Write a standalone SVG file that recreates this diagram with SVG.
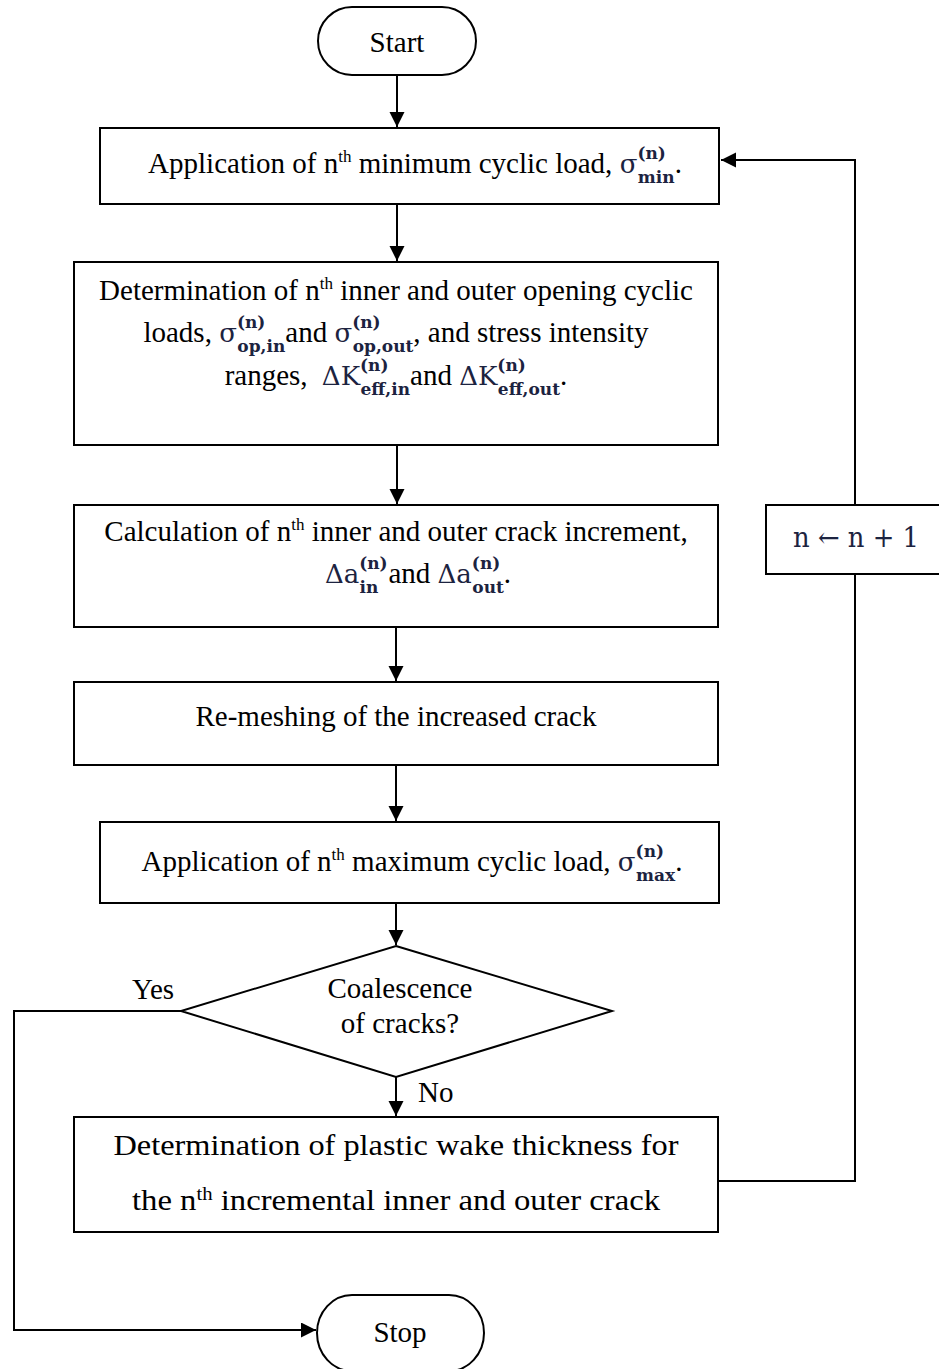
<svg xmlns="http://www.w3.org/2000/svg" width="939" height="1369" viewBox="0 0 939 1369">
<defs>
<style>
.box{fill:#fff;stroke:#000;stroke-width:2}
.ln{fill:none;stroke:#000;stroke-width:2}
.t{font-family:"Liberation Serif","Times New Roman",serif;font-size:29px;fill:#000}
.m{font-family:"DejaVu Serif",serif;fill:#1c2340}
.mb{font-family:"DejaVu Serif",serif;fill:#1c2340;font-size:17px;font-weight:bold}
.sup{font-size:17px}
.p{font-family:"Liberation Serif","Palatino Linotype",serif;font-size:30px;fill:#000}
</style>
<marker id="arr" markerUnits="userSpaceOnUse" markerWidth="16" markerHeight="16" refX="15" refY="7.5" orient="auto">
<path d="M0,0 L15,7.5 L0,15 Z" fill="#000"/>
</marker>
</defs>
<rect width="939" height="1369" fill="#fff"/>

<g id="connectors">
<path class="ln" d="M397,75 V127" marker-end="url(#arr)"/>
<path class="ln" d="M397,204 V261" marker-end="url(#arr)"/>
<path class="ln" d="M397,445 V504" marker-end="url(#arr)"/>
<path class="ln" d="M396,627 V681" marker-end="url(#arr)"/>
<path class="ln" d="M396,765 V821" marker-end="url(#arr)"/>
<path class="ln" d="M396,903 V945" marker-end="url(#arr)"/>
<path class="ln" d="M396,1077 V1116" marker-end="url(#arr)"/>
<path class="ln" d="M182,1011 H14 V1330 H316" marker-end="url(#arr)"/>
<path class="ln" d="M718,1181 H855 V574"/>
<path class="ln" d="M855,505 V160 H721" marker-end="url(#arr)"/>
</g>

<g id="start">
<rect class="box" x="318" y="7" width="158" height="68" rx="34" ry="34"/>
<text class="t" x="397" y="52" text-anchor="middle">Start</text>
</g>

<g id="min-load">
<rect class="box" x="100" y="128" width="619" height="76"/>
<text class="t" x="415" y="173" text-anchor="middle">Application of n<tspan class="sup" dy="-11">th</tspan><tspan dy="11"> minimum cyclic load, </tspan><tspan class="m" font-size="26">σ</tspan><tspan class="mb" dy="-14">(n)</tspan><tspan class="mb" dx="-28" dy="24">min</tspan><tspan dy="-10">.</tspan></text>
</g>

<g id="opening">
<rect class="box" x="74" y="262" width="644" height="183"/>
<text class="t" x="396" y="300" text-anchor="middle">Determination of n<tspan class="sup" dy="-11">th</tspan><tspan dy="11"> inner and outer opening cyclic</tspan></text>
<text class="t" x="396" y="342" text-anchor="middle">loads, <tspan class="m" font-size="26">σ</tspan><tspan class="mb" dy="-14">(n)</tspan><tspan class="mb" dx="-28" dy="24">op,in</tspan><tspan dy="-10">and </tspan><tspan class="m" font-size="26">σ</tspan><tspan class="mb" dy="-14">(n)</tspan><tspan class="mb" dx="-28" dy="24">op,out</tspan><tspan dy="-10">, and stress intensity</tspan></text>
<text class="t" x="396" y="385" text-anchor="middle">ranges, <tspan class="m" dx="7" font-size="26">ΔK</tspan><tspan class="mb" dy="-14">(n)</tspan><tspan class="mb" dx="-28" dy="24">eff,in</tspan><tspan dy="-10">and </tspan><tspan class="m" font-size="26">ΔK</tspan><tspan class="mb" dy="-14">(n)</tspan><tspan class="mb" dx="-28" dy="24">eff,out</tspan><tspan dy="-10">.</tspan></text>
</g>

<g id="increment">
<rect class="box" x="74" y="505" width="644" height="122"/>
<text class="t" x="396" y="541" text-anchor="middle">Calculation of n<tspan class="sup" dy="-11">th</tspan><tspan dy="11"> inner and outer crack increment,</tspan></text>
<text class="t" x="418" y="583" text-anchor="middle"><tspan class="m" font-size="26">Δa</tspan><tspan class="mb" dy="-14">(n)</tspan><tspan class="mb" dx="-28" dy="24">in</tspan><tspan dx="10" dy="-10">and </tspan><tspan class="m" font-size="26">Δa</tspan><tspan class="mb" dy="-14">(n)</tspan><tspan class="mb" dx="-28" dy="24">out</tspan><tspan dy="-10">.</tspan></text>
</g>

<g id="remesh">
<rect class="box" x="74" y="682" width="644" height="83"/>
<text class="t" x="396" y="726" text-anchor="middle">Re-meshing of the increased crack</text>
</g>

<g id="max-load">
<rect class="box" x="100" y="822" width="619" height="81"/>
<text class="t" x="412" y="871" text-anchor="middle">Application of n<tspan class="sup" dy="-11">th</tspan><tspan dy="11"> maximum cyclic load, </tspan><tspan class="m" font-size="26">σ</tspan><tspan class="mb" dy="-14">(n)</tspan><tspan class="mb" dx="-28" dy="24">max</tspan><tspan dy="-10">.</tspan></text>
</g>

<g id="decision">
<polygon class="box" points="396,946 612,1011 396,1077 181,1011"/>
<text class="t" x="400" y="998" text-anchor="middle">Coalescence</text>
<text class="t" x="400" y="1033" text-anchor="middle">of cracks?</text>
<text class="t" x="153" y="999" text-anchor="middle">Yes</text>
<text class="t" x="418" y="1102">No</text>
</g>

<g id="wake">
<rect class="box" x="74" y="1117" width="644" height="115"/>
<text class="p" x="396" y="1155" text-anchor="middle" textLength="565" lengthAdjust="spacingAndGlyphs">Determination of plastic wake thickness for</text>
<text class="p" x="396" y="1210" text-anchor="middle" textLength="528" lengthAdjust="spacingAndGlyphs">the n<tspan font-size="19" dy="-10">th</tspan><tspan dy="10"> incremental inner and outer crack</tspan></text>
</g>

<g id="increment-n">
<rect class="box" x="766" y="505" width="175" height="69"/>
<text class="m" x="856" y="547" font-size="27" text-anchor="middle" textLength="126" lengthAdjust="spacingAndGlyphs">n ← n + 1</text>
</g>

<g id="stop">
<rect class="box" x="317" y="1295" width="167" height="76" rx="35" ry="38"/>
<text class="t" x="400" y="1342" text-anchor="middle">Stop</text>
</g>
</svg>
